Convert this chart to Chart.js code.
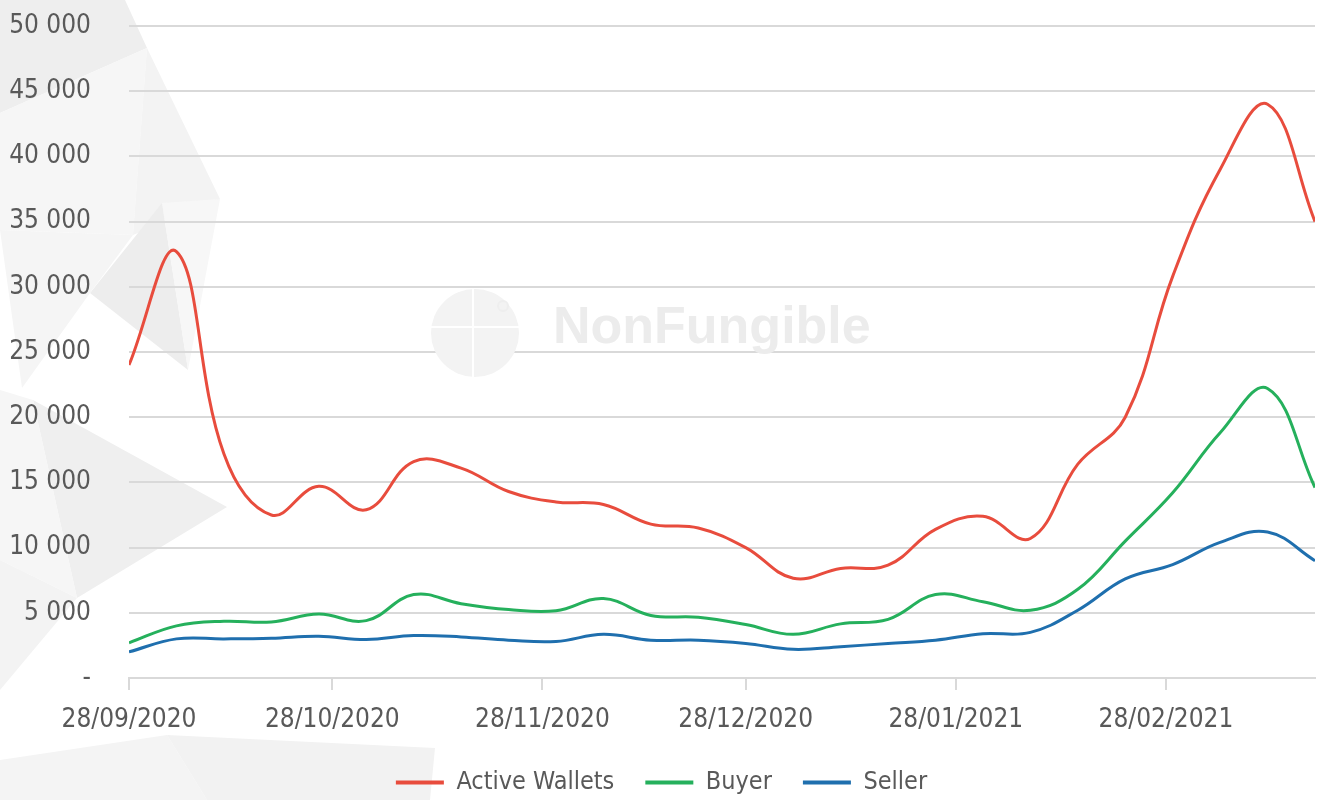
<!DOCTYPE html>
<html>
<head>
<meta charset="utf-8">
<script src="https://cdn.jsdelivr.net/npm/chart.js@4"></script>
<style>
  html, body { margin: 0; padding: 0; background: #fff; }
  #wrap { width: 1320px; height: 800px; position: relative; }
</style>
</head>
<body>
<div id="wrap"><canvas id="myChart" width="1320" height="800"></canvas></div>
<script>
// weekly snapshots
const weekDates = ['28/09/2020', '05/10/2020', '12/10/2020', '19/10/2020', '26/10/2020', '02/11/2020',
  '09/11/2020', '16/11/2020', '23/11/2020', '30/11/2020', '07/12/2020', '14/12/2020', '21/12/2020',
  '28/12/2020', '04/01/2021', '11/01/2021', '18/01/2021', '25/01/2021', '01/02/2021', '08/02/2021',
  '15/02/2021', '22/02/2021', '01/03/2021', '08/03/2021', '15/03/2021', '22/03/2021'];

const activeWallets = [24000, 32700, 17200, 12500, 14700, 12900, 16600, 16100, 14300, 13500, 13300, 11800, 11500,
  10000, 7650, 8400, 8650, 11400, 12400, 10700, 16400, 20000, 30800, 39000, 44000, 35000];
const buyer = [2700, 4000, 4350, 4300, 4900, 4400, 6400, 5700, 5250, 5150, 6100, 4800, 4650,
  4100, 3350, 4150, 4500, 6400, 5850, 5200, 6800, 10500, 14200, 18800, 22200, 14600];
const seller = [2000, 3000, 3000, 3050, 3200, 2950, 3250, 3150, 2900, 2800, 3350, 2900, 2900,
  2650, 2200, 2400, 2650, 2900, 3400, 3500, 5200, 7600, 8700, 10400, 11200, 9000];

const tickDates = ['28/09/2020', '28/10/2020', '28/11/2020', '28/12/2020', '28/01/2021', '28/02/2021'];

const seriesNames = ['Active Wallets', 'Buyer', 'Seller'];
const seriesColors = ['#e84c3d', '#25b05c', '#1f6fae'];

const FONT = '"DejaVu Sans", sans-serif';
const WEIGHT = 'normal condensed';
const TXT = '#595959';

function toDay(s) {
  const p = s.split('/');
  return (Date.UTC(+p[2], +p[1] - 1, +p[0]) - Date.UTC(2020, 8, 28)) / 86400000;
}
const weekDays = weekDates.map(toDay);
const tickDays = tickDates.map(toDay);

function pts(arr) {
  return arr.map(function (v, i) { return { x: weekDays[i], y: v }; });
}

// faint polygon background + watermark
const decor = {
  id: 'decor',
  beforeDraw(chart) {
    const c = chart.ctx;
    const polys = [
      ['#eeeeee', [[0, 0], [125, 0], [147, 48], [0, 113]]],
      ['#f6f6f6', [[0, 113], [147, 48], [133, 235], [0, 230]]],
      ['#f3f3f3', [[147, 48], [220, 199], [133, 235]]],
      ['#ededed', [[162, 203], [90, 293], [188, 370]]],
      ['#f7f7f7', [[162, 203], [220, 199], [188, 370]]],
      ['#f5f5f5', [[0, 230], [133, 235], [90, 293], [22, 388]]],
      ['#efefef', [[33, 400], [227, 507], [77, 598]]],
      ['#f6f6f6', [[0, 390], [33, 400], [77, 598], [0, 560]]],
      ['#f3f3f3', [[0, 560], [77, 598], [0, 690]]],
      ['#f4f4f4', [[0, 760], [167, 735], [207, 800], [0, 800]]],
      ['#f2f2f2', [[167, 735], [435, 748], [430, 800], [207, 800]]]
    ];
    c.save();
    polys.forEach(function (p) {
      c.fillStyle = p[0];
      c.beginPath();
      p[1].forEach(function (q, i) { i ? c.lineTo(q[0], q[1]) : c.moveTo(q[0], q[1]); });
      c.closePath();
      c.fill();
    });
    c.restore();
  },
  beforeDatasetsDraw(chart) {
    const c = chart.ctx;
    c.save();
    c.fillStyle = '#ececec';
    c.font = 'bold 52px "Liberation Sans", Arial, sans-serif';
    c.textBaseline = 'middle';
    c.fillText('NonFungible', 553, 329);
    c.fillStyle = '#f3f3f3';
    c.beginPath();
    c.arc(475, 333, 44, 0, Math.PI * 2);
    c.fill();
    c.fillStyle = '#ffffff';
    c.fillRect(472, 288, 2, 90);
    c.fillRect(430, 326, 92, 2);
    c.strokeStyle = '#eeeeee';
    c.lineWidth = 2;
    c.beginPath();
    c.arc(503, 306, 5, 0, Math.PI * 2);
    c.stroke();
    c.restore();
  }
};

const ctx = document.getElementById('myChart').getContext('2d');

const chart = new Chart(ctx, {
  type: 'line',
  data: {
    datasets: seriesNames.map(function (name, k) {
      return {
        label: name,
        data: pts([activeWallets, buyer, seller][k]),
        borderColor: seriesColors[k],
        backgroundColor: seriesColors[k],
        borderWidth: 3,
        pointRadius: 0,
        tension: 0.4,
        fill: false
      };
    })
  },
  options: {
    responsive: false,
    animation: false,
    devicePixelRatio: 1,
    layout: { padding: { top: 26, right: 5, left: 8, bottom: -5 } },
    plugins: {
      tooltip: { enabled: false },
      legend: {
        position: 'bottom',
        labels: {
          color: TXT,
          font: { family: FONT, size: 25, weight: WEIGHT },
          boxWidth: 48,
          boxHeight: 4,
          padding: 31,
          generateLabels(ch) {
            return ch.data.datasets.map(function (ds, i) {
              return { text: ds.label, fillStyle: ds.borderColor, strokeStyle: ds.borderColor, lineWidth: 0, fontColor: TXT, datasetIndex: i };
            });
          }
        }
      }
    },
    scales: {
      x: {
        type: 'linear',
        min: 0,
        max: 175,
        afterBuildTicks(axis) {
          axis.ticks = tickDays.map(function (d) { return { value: d }; });
        },
        afterFit(axis) {
          axis.height = 61;
          axis.paddingTop = 0;
          axis.paddingBottom = 0;
        },
        ticks: {
          color: TXT,
          font: { family: FONT, size: 26, weight: WEIGHT },
          padding: 15,
          maxRotation: 0,
          autoSkip: false,
          callback(v) {
            const i = tickDays.indexOf(v);
            return i >= 0 ? tickDates[i] : '';
          }
        },
        grid: { drawOnChartArea: false, drawTicks: true, tickLength: 12, color: '#d9d9d9', lineWidth: 2 },
        border: { display: true, color: '#d9d9d9', width: 2 }
      },
      y: {
        min: 0,
        max: 50000,
        afterFit(axis) {
          axis.width = 121;
          axis.paddingTop = 0;
          axis.paddingBottom = 0;
        },
        ticks: {
          stepSize: 5000,
          color: TXT,
          font: { family: FONT, size: 26, weight: WEIGHT },
          padding: 38,
          callback(v) {
            if (v === 0) return '-';
            return String(v).replace(/\B(?=(\d{3})+(?!\d))/g, ' ');
          }
        },
        grid: { color: '#d9d9d9', lineWidth: 2, drawTicks: false },
        border: { display: false }
      }
    }
  },
  plugins: [decor]
});
</script>
</body>
</html>
